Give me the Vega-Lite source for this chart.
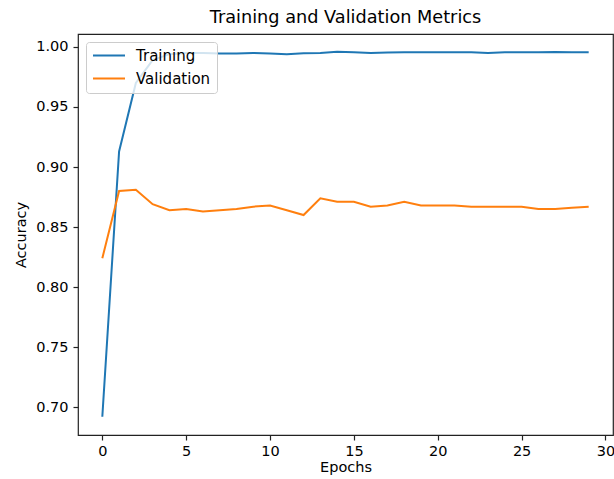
{
  "$schema": "https://vega.github.io/schema/vega-lite/v6.json",
  "width": 535,
  "height": 401,
  "autosize": {"type": "none"},
  "padding": {"left": 78, "top": 34, "right": 1, "bottom": 44},
  "background": "white",
  "config": {
    "font": "DejaVu Sans",
    "view": {"stroke": "#222222", "strokeWidth": 1.2}
  },
  "title": {
    "text": "Training and Validation Metrics",
    "fontSize": 17.7,
    "fontWeight": "normal",
    "font": "DejaVu Sans",
    "color": "black",
    "anchor": "middle",
    "offset": 7
  },
  "data": {
    "values": [
      {"epoch": 0, "series": "Training", "acc": 0.692},
      {"epoch": 1, "series": "Training", "acc": 0.913},
      {"epoch": 2, "series": "Training", "acc": 0.970},
      {"epoch": 3, "series": "Training", "acc": 0.989},
      {"epoch": 4, "series": "Training", "acc": 0.994},
      {"epoch": 5, "series": "Training", "acc": 0.995},
      {"epoch": 6, "series": "Training", "acc": 0.995},
      {"epoch": 7, "series": "Training", "acc": 0.9945},
      {"epoch": 8, "series": "Training", "acc": 0.9945},
      {"epoch": 9, "series": "Training", "acc": 0.995},
      {"epoch": 10, "series": "Training", "acc": 0.9945},
      {"epoch": 11, "series": "Training", "acc": 0.994},
      {"epoch": 12, "series": "Training", "acc": 0.9948},
      {"epoch": 13, "series": "Training", "acc": 0.995},
      {"epoch": 14, "series": "Training", "acc": 0.996},
      {"epoch": 15, "series": "Training", "acc": 0.9955},
      {"epoch": 16, "series": "Training", "acc": 0.995},
      {"epoch": 17, "series": "Training", "acc": 0.9953},
      {"epoch": 18, "series": "Training", "acc": 0.9956},
      {"epoch": 19, "series": "Training", "acc": 0.9956},
      {"epoch": 20, "series": "Training", "acc": 0.9956},
      {"epoch": 21, "series": "Training", "acc": 0.9955},
      {"epoch": 22, "series": "Training", "acc": 0.9955},
      {"epoch": 23, "series": "Training", "acc": 0.995},
      {"epoch": 24, "series": "Training", "acc": 0.9955},
      {"epoch": 25, "series": "Training", "acc": 0.9955},
      {"epoch": 26, "series": "Training", "acc": 0.9955},
      {"epoch": 27, "series": "Training", "acc": 0.9958},
      {"epoch": 28, "series": "Training", "acc": 0.9955},
      {"epoch": 29, "series": "Training", "acc": 0.9955},
      {"epoch": 0, "series": "Validation", "acc": 0.824},
      {"epoch": 1, "series": "Validation", "acc": 0.880},
      {"epoch": 2, "series": "Validation", "acc": 0.881},
      {"epoch": 3, "series": "Validation", "acc": 0.869},
      {"epoch": 4, "series": "Validation", "acc": 0.864},
      {"epoch": 5, "series": "Validation", "acc": 0.865},
      {"epoch": 6, "series": "Validation", "acc": 0.863},
      {"epoch": 7, "series": "Validation", "acc": 0.864},
      {"epoch": 8, "series": "Validation", "acc": 0.865},
      {"epoch": 9, "series": "Validation", "acc": 0.867},
      {"epoch": 10, "series": "Validation", "acc": 0.868},
      {"epoch": 11, "series": "Validation", "acc": 0.864},
      {"epoch": 12, "series": "Validation", "acc": 0.860},
      {"epoch": 13, "series": "Validation", "acc": 0.874},
      {"epoch": 14, "series": "Validation", "acc": 0.871},
      {"epoch": 15, "series": "Validation", "acc": 0.871},
      {"epoch": 16, "series": "Validation", "acc": 0.867},
      {"epoch": 17, "series": "Validation", "acc": 0.868},
      {"epoch": 18, "series": "Validation", "acc": 0.871},
      {"epoch": 19, "series": "Validation", "acc": 0.868},
      {"epoch": 20, "series": "Validation", "acc": 0.868},
      {"epoch": 21, "series": "Validation", "acc": 0.868},
      {"epoch": 22, "series": "Validation", "acc": 0.867},
      {"epoch": 23, "series": "Validation", "acc": 0.867},
      {"epoch": 24, "series": "Validation", "acc": 0.867},
      {"epoch": 25, "series": "Validation", "acc": 0.867},
      {"epoch": 26, "series": "Validation", "acc": 0.865},
      {"epoch": 27, "series": "Validation", "acc": 0.865},
      {"epoch": 28, "series": "Validation", "acc": 0.866},
      {"epoch": 29, "series": "Validation", "acc": 0.867}
    ]
  },
  "mark": {"type": "line", "strokeWidth": 2, "clip": true},
  "encoding": {
    "x": {
      "field": "epoch",
      "type": "quantitative",
      "title": "Epochs",
      "scale": {"domain": [-1.45, 30.45], "nice": false, "zero": false},
      "axis": {
        "values": [0, 5, 10, 15, 20, 25, 30],
        "grid": false,
        "domain": false,
        "tickColor": "#222222",
        "tickSize": 5,
        "tickWidth": 1.2,
        "labelFontSize": 14.5,
        "labelColor": "black",
        "labelPadding": 4,
        "labelFlush": false,
        "titleFontSize": 14.5,
        "titleFontWeight": "normal",
        "titleColor": "black",
        "titlePadding": 3
      }
    },
    "y": {
      "field": "acc",
      "type": "quantitative",
      "title": "Accuracy",
      "scale": {"domain": [0.6768, 1.0108], "nice": false, "zero": false},
      "axis": {
        "values": [0.70, 0.75, 0.80, 0.85, 0.90, 0.95, 1.00],
        "format": ".2f",
        "grid": false,
        "domain": false,
        "tickColor": "#222222",
        "tickSize": 5,
        "tickWidth": 1.2,
        "labelFontSize": 14.5,
        "labelColor": "black",
        "labelPadding": 5,
        "labelFlush": false,
        "titleFontSize": 14.5,
        "titleFontWeight": "normal",
        "titleColor": "black",
        "titlePadding": 7
      }
    },
    "color": {
      "field": "series",
      "type": "nominal",
      "scale": {"domain": ["Training", "Validation"], "range": ["#1f77b4", "#ff7f0e"]},
      "legend": {
        "title": null,
        "orient": "top-left",
        "offset": 8,
        "symbolType": "stroke",
        "symbolStrokeWidth": 2,
        "symbolSize": 1024,
        "clipHeight": 15,
        "labelFontSize": 15,
        "labelOffset": 10,
        "labelColor": "black",
        "fillColor": "rgba(255,255,255,0.8)",
        "strokeColor": "#cccccc",
        "cornerRadius": 3,
        "padding": 6,
        "rowPadding": 7
      }
    }
  }
}
